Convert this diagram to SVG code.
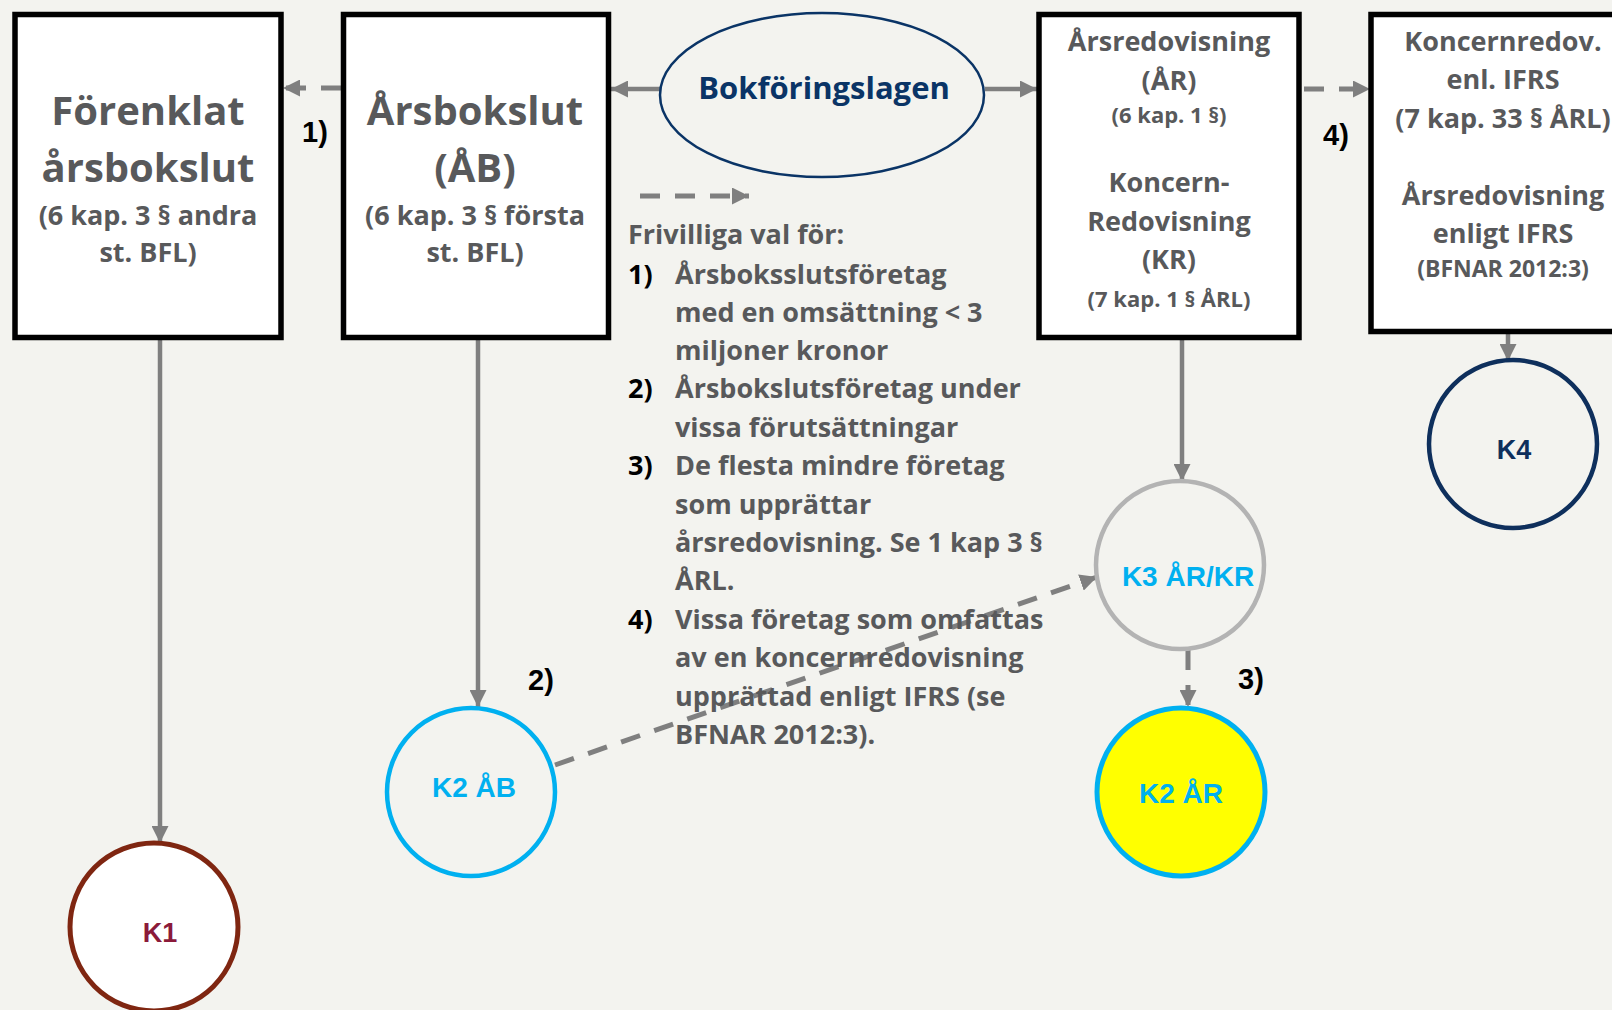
<svg xmlns="http://www.w3.org/2000/svg" width="1612" height="1010" viewBox="0 0 1612 1010">
<style>
.bg{fill:#F3F3EF}
.box{fill:#fff;stroke:#000;stroke-width:5.5}
.t{font-family:"Open Sans","Liberation Sans",sans-serif;font-weight:700;fill:#58595B;text-anchor:middle}
.big{font-size:40px}
.mid{font-size:27px}
.sm{font-size:22px}
.xs{font-size:23px}
.leg{font-family:"Open Sans","Liberation Sans",sans-serif;font-weight:700;font-size:27px;fill:#58595B}
.legn{fill:#000}
.lab{font-family:"Liberation Sans",Arial,sans-serif;font-weight:700;font-size:29px;fill:#000}
.k{font-family:"Liberation Sans",Arial,sans-serif;font-weight:700;font-size:28px;text-anchor:middle}
.solid{stroke:#7F7F7F;stroke-width:4.5;fill:none;marker-end:url(#ah)}
.dash{stroke:#7F7F7F;stroke-width:5;fill:none;stroke-dasharray:20 15;marker-end:url(#ah)}
</style>
<defs>
<marker id="ah" markerUnits="userSpaceOnUse" markerWidth="17" markerHeight="17" refX="17" refY="8.5" orient="auto">
<path d="M0,0 L17,8.5 L0,17 z" fill="#7F7F7F"/>
</marker>
</defs>
<rect class="bg" x="0" y="0" width="1612" height="1010"/>

<g id="connectors">
<line class="solid" x1="660" y1="89" x2="611" y2="89"/>
<line class="solid" x1="985" y1="89" x2="1037" y2="89"/>
<line class="dash" x1="341" y1="88" x2="283" y2="88"/>
<line class="dash" x1="1304" y1="89" x2="1370" y2="89"/>
<line class="solid" x1="160" y1="340" x2="160" y2="843"/>
<line class="solid" x1="478" y1="340" x2="478" y2="707"/>
<line class="solid" x1="1182" y1="340" x2="1182" y2="481"/>
<line class="solid" x1="1508" y1="334" x2="1508" y2="361"/>
<line class="dash" x1="555" y1="765" x2="1097" y2="577"/>
<line class="dash" x1="1188" y1="650" x2="1188" y2="707"/>
<line class="dash" x1="640" y1="196" x2="749" y2="196"/>
</g>

<g id="forenklat">
<rect class="box" x="15" y="14.5" width="266" height="323"/>
<text class="t big" x="148" y="125">Förenklat</text>
<text class="t big" x="148" y="182">årsbokslut</text>
<text class="t mid" x="148" y="225">(6 kap. 3 § andra</text>
<text class="t mid" x="148" y="262">st. BFL)</text>
</g>

<g id="arsbokslut">
<rect class="box" x="343.5" y="14.5" width="265" height="323"/>
<text class="t big" x="475" y="125">Årsbokslut</text>
<text class="t big" x="475" y="182">(ÅB)</text>
<text class="t mid" x="475" y="225">(6 kap. 3 § första</text>
<text class="t mid" x="475" y="262">st. BFL)</text>
</g>

<g id="bokforingslagen">
<ellipse cx="822" cy="95" rx="162" ry="82" fill="none" stroke="#0A3466" stroke-width="2.5"/>
<text class="t" x="824" y="99" style="font-size:31px;fill:#0A3466">Bokföringslagen</text>
</g>

<g id="arsredovisning">
<rect class="box" x="1039" y="14.5" width="260" height="323"/>
<text class="t mid" x="1169" y="51">Årsredovisning</text>
<text class="t mid" x="1169" y="90">(ÅR)</text>
<text class="t sm" x="1169" y="123">(6 kap. 1 §)</text>
<text class="t mid" x="1169" y="192">Koncern-</text>
<text class="t mid" x="1169" y="231">Redovisning</text>
<text class="t mid" x="1169" y="269">(KR)</text>
<text class="t sm" x="1169" y="307">(7 kap. 1 § ÅRL)</text>
</g>

<g id="ifrs">
<rect class="box" x="1371" y="14.5" width="260" height="317"/>
<text class="t mid" x="1503" y="51">Koncernredov.</text>
<text class="t mid" x="1503" y="89">enl. IFRS</text>
<text class="t mid" x="1503" y="128">(7 kap. 33 § ÅRL)</text>
<text class="t mid" x="1503" y="205">Årsredovisning</text>
<text class="t mid" x="1503" y="243">enligt IFRS</text>
<text class="t xs" x="1503" y="277">(BFNAR 2012:3)</text>
</g>

<g id="legend">
<text class="leg" x="628" y="244">Frivilliga val för:</text>
<text class="leg legn" x="628" y="284">1)</text>
<text class="leg" x="675" y="284">Årsboksslutsföretag</text>
<text class="leg" x="675" y="322">med en omsättning &lt; 3</text>
<text class="leg" x="675" y="360">miljoner kronor</text>
<text class="leg legn" x="628" y="398">2)</text>
<text class="leg" x="675" y="398">Årsbokslutsföretag under</text>
<text class="leg" x="675" y="437">vissa förutsättningar</text>
<text class="leg legn" x="628" y="475">3)</text>
<text class="leg" x="675" y="475">De flesta mindre företag</text>
<text class="leg" x="675" y="514">som upprättar</text>
<text class="leg" x="675" y="552">årsredovisning. Se 1 kap 3 §</text>
<text class="leg" x="675" y="590">ÅRL.</text>
<text class="leg legn" x="628" y="629">4)</text>
<text class="leg" x="675" y="629">Vissa företag som omfattas</text>
<text class="leg" x="675" y="667">av en koncernredovisning</text>
<text class="leg" x="675" y="706">upprättad enligt IFRS (se</text>
<text class="leg" x="675" y="744">BFNAR 2012:3).</text>
</g>

<g id="labels">
<text class="lab" x="302" y="142">1)</text>
<text class="lab" x="528" y="690">2)</text>
<text class="lab" x="1238" y="689">3)</text>
<text class="lab" x="1323" y="145">4)</text>
</g>

<g id="k1">
<circle cx="154" cy="927" r="84" fill="#fff" stroke="#7F2611" stroke-width="5"/>
<text class="k" x="160" y="942" style="font-size:27px;fill:#8B1A3A">K1</text>
</g>

<g id="k2ab">
<circle cx="471" cy="792" r="84" fill="none" stroke="#00B0F0" stroke-width="4.5"/>
<text class="k" x="474" y="797" style="fill:#00B0F0">K2 ÅB</text>
</g>

<g id="k3">
<circle cx="1180" cy="565" r="84" fill="none" stroke="#B3B3B3" stroke-width="4.5"/>
<text class="k" x="1188" y="586" style="fill:#00B0F0">K3 ÅR/KR</text>
</g>

<g id="k2ar">
<circle cx="1181" cy="792" r="84" fill="#FFFF00" stroke="#00B0F0" stroke-width="5"/>
<text class="k" x="1181" y="803" style="fill:#00B0F0">K2 ÅR</text>
</g>

<g id="k4">
<circle cx="1513" cy="444" r="84" fill="none" stroke="#0E2F5C" stroke-width="4.5"/>
<text class="k" x="1514" y="459" style="font-size:27px;fill:#0E2F5C">K4</text>
</g>
</svg>
